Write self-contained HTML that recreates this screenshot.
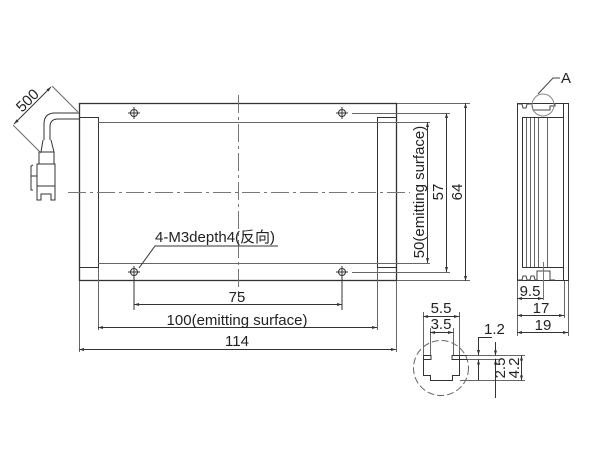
<!DOCTYPE html>
<html><head><meta charset="utf-8"><style>
html,body{margin:0;padding:0;background:#fff;}
svg{display:block;}
text{font-family:"Liberation Sans","Noto Sans CJK SC",sans-serif;fill:#222;}
</style></head><body>
<svg width="600" height="450" viewBox="0 0 600 450" xmlns="http://www.w3.org/2000/svg">
<defs>
<marker id="a" viewBox="0 0 10 10" refX="10" refY="5" markerWidth="7" markerHeight="5" orient="auto-start-reverse" markerUnits="userSpaceOnUse"><path d="M0,2 L10,5 L0,8z" fill="#333"/></marker>
</defs>
<g stroke="#333" fill="none" stroke-width="1">
<rect x="79.5" y="103.5" width="317" height="177" stroke-width="1.3"/>
<rect x="79.5" y="117.5" width="19" height="150"/>
<rect x="377.5" y="117.5" width="19" height="150"/>
<line x1="98" y1="122.5" x2="430" y2="122.5" stroke="#666"/>
<line x1="98" y1="263.5" x2="430" y2="263.5" stroke="#666"/>
<line x1="68" y1="192.5" x2="410" y2="192.5" stroke="#777" stroke-dasharray="18,4,3,4"/>
<line x1="238.5" y1="95" x2="238.5" y2="300" stroke="#777" stroke-dasharray="18,4,3,4"/>
<g stroke="#333">
<circle cx="134" cy="113" r="3.5"/><line x1="128" y1="113" x2="140" y2="113"/><line x1="134" y1="107" x2="134" y2="119"/>
<circle cx="342" cy="113" r="3.5"/><line x1="336" y1="113" x2="348" y2="113"/><line x1="342" y1="107" x2="342" y2="119"/>
<circle cx="134" cy="272" r="3.5"/><line x1="128" y1="272" x2="140" y2="272"/><line x1="134" y1="266" x2="134" y2="310"/>
<circle cx="342" cy="272" r="3.5"/><line x1="336" y1="272" x2="348" y2="272"/><line x1="342" y1="266" x2="342" y2="310"/>
</g>
<line x1="352" y1="113.5" x2="450" y2="113.5" stroke="#666"/>
<line x1="352" y1="272.5" x2="450" y2="272.5" stroke="#666"/>
<line x1="397" y1="103.5" x2="470" y2="103.5" stroke="#666"/>
<line x1="397" y1="280.5" x2="470" y2="280.5" stroke="#666"/>
<line x1="427.5" y1="122" x2="427.5" y2="263" marker-start="url(#a)" marker-end="url(#a)"/>
<line x1="446.5" y1="113" x2="446.5" y2="272" marker-start="url(#a)" marker-end="url(#a)"/>
<line x1="465.5" y1="103" x2="465.5" y2="281" marker-start="url(#a)" marker-end="url(#a)"/>
<line x1="98.5" y1="268" x2="98.5" y2="330" stroke="#666"/>
<line x1="377.5" y1="268" x2="377.5" y2="330" stroke="#666"/>
<line x1="79.5" y1="281" x2="79.5" y2="352" stroke="#666"/>
<line x1="396.5" y1="281" x2="396.5" y2="352" stroke="#666"/>
<line x1="134" y1="304.5" x2="342" y2="304.5" marker-start="url(#a)" marker-end="url(#a)"/>
<line x1="98" y1="327.5" x2="377" y2="327.5" marker-start="url(#a)" marker-end="url(#a)"/>
<line x1="79" y1="349.5" x2="396" y2="349.5" marker-start="url(#a)" marker-end="url(#a)"/>
<polyline points="139,268 155,246 278,246"/>
<path d="M79,113 L55,113 Q44,113 44,124 L44,140" />
<path d="M79,119 L58,119 Q50,119 50,127 L50,140"/>
<path d="M43,140 L41,152 L54,152 L51,140"/>
<rect x="39" y="152" width="15" height="12"/>
<rect x="37" y="164" width="18" height="22"/>
<path d="M37,186 L37,200 L41,200 L41,194 L51,194 L51,200 L55,200 L55,186"/>
<path d="M33,165 L31,166 L31,190 L33,190"/>
<line x1="31" y1="176" x2="37" y2="176"/>
<line x1="52" y1="86" x2="78" y2="112" stroke="#666"/>
<line x1="13" y1="125" x2="41" y2="153" stroke="#666"/>
<line x1="51" y1="87" x2="14" y2="124" marker-start="url(#a)" marker-end="url(#a)"/>
<rect x="517.5" y="103.5" width="51" height="177"/>
<line x1="522.5" y1="117" x2="522.5" y2="268"/>
<line x1="526.5" y1="117" x2="526.5" y2="268" stroke="#666"/>
<line x1="530.5" y1="117" x2="530.5" y2="268" stroke="#666"/>
<line x1="534.5" y1="117" x2="534.5" y2="268" stroke="#666"/>
<line x1="538.5" y1="117" x2="538.5" y2="268" stroke="#666"/>
<line x1="547.5" y1="117" x2="547.5" y2="268" stroke="#666"/>
<line x1="563.5" y1="103" x2="563.5" y2="281"/>
<line x1="522" y1="117.5" x2="563" y2="117.5"/>
<line x1="522" y1="267.5" x2="563" y2="267.5"/>
<path d="M517,104 L522,104 L523,108 L526,108 L527,104 L532,104 L533,110 L550,110 L550,106 L555,106 L555,104" stroke="#444"/>
<path d="M517,280 L522,280 L523,276 L526,276 L527,280 L530,280 L531,276 L534,276 L535,280 L537,280 L537,271 L550,271 L550,280 L555,280" stroke="#444"/>
<circle cx="543" cy="105" r="11" stroke="#888"/>
<polyline points="538,94 553,78 560,78" stroke="#444"/>
<line x1="543.5" y1="262" x2="543.5" y2="300" stroke="#777"/>
<line x1="517.5" y1="281" x2="517.5" y2="336" stroke="#666"/>
<line x1="564.5" y1="281" x2="564.5" y2="318" stroke="#666"/>
<line x1="568.5" y1="281" x2="568.5" y2="336" stroke="#666"/>
<line x1="517" y1="298.5" x2="543" y2="298.5" marker-start="url(#a)" marker-end="url(#a)"/>
<line x1="517" y1="315.5" x2="564" y2="315.5" marker-start="url(#a)" marker-end="url(#a)"/>
<line x1="517" y1="332.5" x2="568" y2="332.5" marker-start="url(#a)" marker-end="url(#a)"/>
<circle cx="441" cy="368" r="27.5" stroke="#666" stroke-dasharray="7,3"/>
<path d="M423.5,355.5 L423.5,375.5 L430.5,375.5 L430.5,380.5 L452.5,380.5 L452.5,375.5 L459.5,375.5 L459.5,355.5"/>
<path d="M423,355.5 L431,355.5 L431,359.5 L423,359.5"/>
<path d="M467,355.5 L452,355.5 L452,359.5 L467,359.5"/>
<line x1="423.5" y1="312" x2="423.5" y2="355" stroke="#666"/>
<line x1="459.5" y1="312" x2="459.5" y2="355" stroke="#666"/>
<line x1="430.5" y1="328" x2="430.5" y2="355" stroke="#666"/>
<line x1="453.5" y1="328" x2="453.5" y2="355" stroke="#666"/>
<line x1="423" y1="316.5" x2="459" y2="316.5" marker-start="url(#a)" marker-end="url(#a)"/>
<line x1="430" y1="332.5" x2="453" y2="332.5" marker-start="url(#a)" marker-end="url(#a)"/>
<line x1="467" y1="355.5" x2="525" y2="355.5" stroke="#666"/>
<line x1="467" y1="359.5" x2="500" y2="359.5" stroke="#666"/>
<line x1="460" y1="380.5" x2="525" y2="380.5" stroke="#666"/>
<polyline points="478.5,337 478.5,355" marker-end="url(#a)"/>
<line x1="478.5" y1="337.5" x2="492" y2="337.5"/>
<line x1="478.5" y1="380" x2="478.5" y2="359.5" marker-end="url(#a)"/>
<line x1="495.5" y1="342" x2="495.5" y2="355.5" marker-end="url(#a)"/>
<line x1="495.5" y1="398" x2="495.5" y2="359.5" marker-end="url(#a)"/>
<line x1="521.5" y1="355.5" x2="521.5" y2="380.5" marker-start="url(#a)" marker-end="url(#a)"/>
</g>
<g font-size="15">
<text x="237" y="302" text-anchor="middle">75</text>
<text x="237" y="325" text-anchor="middle">100(emitting surface)</text>
<text x="237" y="346" text-anchor="middle">114</text>
<text x="155" y="242">4-M3depth4(反向)</text>
<text transform="translate(31,104) rotate(-45)" text-anchor="middle">500</text>
<text transform="translate(424,192) rotate(-90)" text-anchor="middle">50(emitting surface)</text>
<text transform="translate(443,192) rotate(-90)" text-anchor="middle">57</text>
<text transform="translate(462,192) rotate(-90)" text-anchor="middle">64</text>
<text x="561" y="83">A</text>
<text x="530" y="296" text-anchor="middle">9.5</text>
<text x="541" y="313" text-anchor="middle">17</text>
<text x="543" y="330" text-anchor="middle">19</text>
<text x="441" y="313" text-anchor="middle">5.5</text>
<text x="441" y="329" text-anchor="middle">3.5</text>
<text x="484" y="334">1.2</text>
<text transform="translate(505,368) rotate(-90)" text-anchor="middle">2.5</text>
<text transform="translate(519,368) rotate(-90)" text-anchor="middle">4.2</text>
</g>
</svg>
</body></html>
